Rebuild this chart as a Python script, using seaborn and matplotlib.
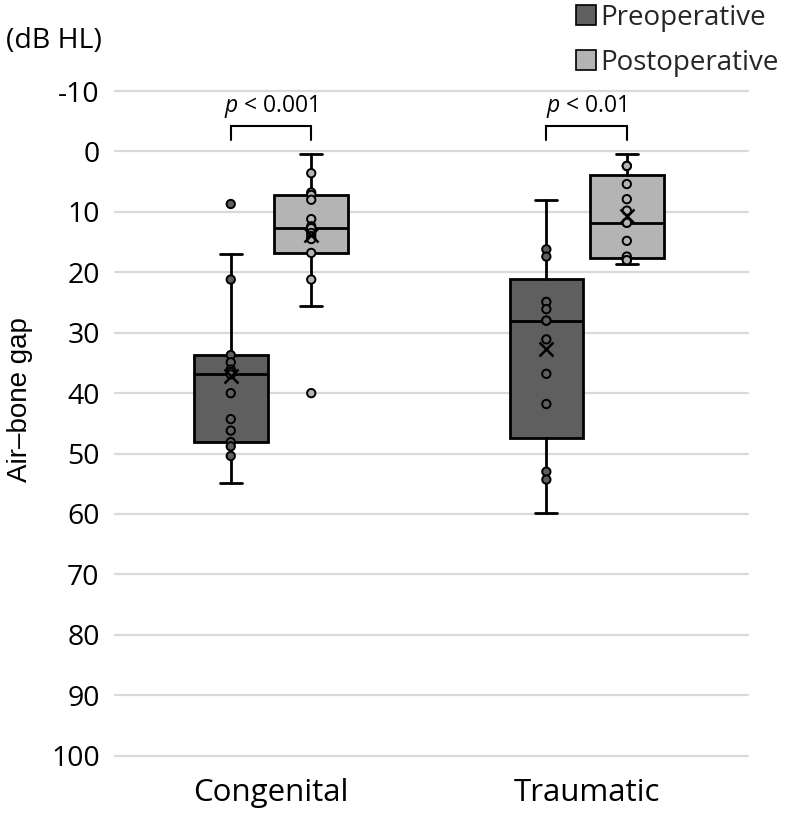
import matplotlib
matplotlib.use("Agg")
import matplotlib.pyplot as plt
from matplotlib.patches import Patch
import numpy as np
import pandas as pd
import seaborn as sns

# values (dB HL)
ETIOLOGIES = ["Congenital", "Traumatic"]
PHASES = ["Preoperative", "Postoperative"]
CONGENITAL_PRE = [8.7, 16.9, 21.2, 33.7, 34.9, 36.1, 36.5, 36.9, 40.0, 44.3, 46.2, 48.1, 48.8, 50.4, 54.9]
CONGENITAL_POST = [0.4, 3.6, 6.8, 7.2, 8.0, 11.2, 12.4, 12.7, 13.5, 14.0, 14.5, 16.8, 21.2, 25.5, 40.0]
TRAUMATIC_PRE = [8.0, 16.2, 17.4, 24.9, 26.1, 28.0, 28.0, 31.1, 36.8, 41.8, 53.0, 54.3, 59.9]
TRAUMATIC_POST = [0.4, 2.4, 2.4, 5.4, 7.9, 9.8, 11.8, 11.8, 14.8, 17.4, 18.0, 18.0, 18.7]
P_LABELS = ["< 0.001", "< 0.01"]
Y_TICKS = list(range(-10, 101, 10))

PHASE_COLORS = {"Preoperative": "#5f5f5f", "Postoperative": "#b4b4b4"}
PHASE_OFFSET = {"Preoperative": -0.1275, "Postoperative": 0.1275}
BOX_WIDTH = 0.2335
FONT = ["Open Sans", "DejaVu Sans"]


def excel_box_stats(values):
    # Excel box & whisker: exclusive quartiles, 1.5 IQR whiskers
    x = np.asarray(values, dtype=float)
    q1, med, q3 = np.percentile(x, [25, 50, 75], method="weibull")
    iqr = q3 - q1
    inside = x[(x >= q1 - 1.5 * iqr) & (x <= q3 + 1.5 * iqr)]
    return {
        "q1": q1, "med": med, "q3": q3, "mean": x.mean(),
        "whislo": inside.min(), "whishi": inside.max(), "fliers": [],
    }


def build_frame():
    series = {
        ("Congenital", "Preoperative"): CONGENITAL_PRE,
        ("Congenital", "Postoperative"): CONGENITAL_POST,
        ("Traumatic", "Preoperative"): TRAUMATIC_PRE,
        ("Traumatic", "Postoperative"): TRAUMATIC_POST,
    }
    rows = []
    for (etiology, phase), vals in series.items():
        for v in vals:
            rows.append({"etiology": etiology, "phase": phase, "value": v})
    df = pd.DataFrame(rows)
    df["pos"] = df["etiology"].map({e: i for i, e in enumerate(ETIOLOGIES)}) + df["phase"].map(PHASE_OFFSET)
    return df


def main():
    sns.set_theme(style="white")
    plt.rcParams["font.family"] = FONT
    plt.rcParams["axes.unicode_minus"] = False
    plt.rcParams["mathtext.fontset"] = "custom"
    plt.rcParams["mathtext.it"] = "Open Sans:italic"
    plt.rcParams["mathtext.rm"] = "Open Sans"

    df = build_frame()

    fig = plt.figure(figsize=(7.87, 8.13), dpi=100)
    ax = fig.add_axes([115 / 787, 1 - 755.7 / 813, (747.7 - 115) / 787, (755.7 - 91) / 813])

    stats, positions, colors, shown = [], [], [], []
    for (etiology, phase), grp in df.groupby(["etiology", "phase"], sort=False):
        st = excel_box_stats(grp["value"])
        stats.append(st)
        positions.append(grp["pos"].iloc[0])
        colors.append(PHASE_COLORS[phase])
        # Excel shows the inner points and outliers, not the whisker ends
        mask = (grp["value"] > st["whislo"]) & (grp["value"] < st["whishi"])
        mask |= (grp["value"] < st["whislo"]) | (grp["value"] > st["whishi"])
        shown.append(grp[mask])

    line_kw = dict(color="black", linewidth=2.0)
    bp = ax.bxp(
        stats, positions=positions, widths=BOX_WIDTH, capwidths=0.07,
        patch_artist=True, showmeans=True, showfliers=False,
        boxprops=dict(edgecolor="black", linewidth=2.0),
        whiskerprops=line_kw, capprops=line_kw, medianprops=line_kw,
        meanprops=dict(marker="x", markeredgecolor="black", markersize=10, markeredgewidth=1.8),
        zorder=2,
    )
    for patch, c in zip(bp["boxes"], colors):
        patch.set_facecolor(c)
    for m in bp["means"]:
        m.set_zorder(5)

    points = pd.concat(shown)
    sns.scatterplot(
        data=points, x="pos", y="value", hue="phase", palette=PHASE_COLORS,
        s=36, edgecolor="black", linewidth=1.4, legend=False, zorder=4, ax=ax,
    )

    # significance brackets
    for i, label in enumerate(P_LABELS):
        x0, x1 = i + PHASE_OFFSET["Preoperative"], i + PHASE_OFFSET["Postoperative"]
        ax.plot([x0, x0, x1, x1], [-1.9, -4.25, -4.25, -1.9], color="black", linewidth=1.5,
                solid_joinstyle="miter", zorder=3)
        ax.text(i, -6.6, r"$\mathit{p}$" + " " + label, ha="center", va="baseline",
                fontsize=16.5, color="black")

    ax.set_xlim(-0.4943, 1.5105)
    ax.set_ylim(100, -10)
    ax.set_yticks(Y_TICKS)
    ax.set_xticks(range(len(ETIOLOGIES)))
    ax.set_xticklabels(ETIOLOGIES)
    ax.set_xlabel("")
    ax.set_ylabel("")
    ax.tick_params(axis="y", labelsize=20.5, pad=11, length=0, labelcolor="black")
    ax.tick_params(axis="x", labelsize=22.5, pad=16, length=0, labelcolor="black")
    ax.yaxis.grid(True, color="#d9d9d9", linewidth=1.6)
    ax.xaxis.grid(False)
    for line in ax.get_ygridlines():
        line.set_clip_on(False)
    ax.set_axisbelow(True)
    sns.despine(ax=ax, left=True, bottom=True)

    fig.text(20 / 787, 1 - 400 / 813, "Air\u2013bone gap", rotation=90, ha="center", va="center",
             fontsize=20, family=["Liberation Sans", "DejaVu Sans"], color="black")
    fig.text(6 / 787, 1 - 41 / 813, "(dB HL)", ha="left", va="center", fontsize=20.5, color="black")

    handles = [Patch(facecolor=PHASE_COLORS[p], edgecolor="black", linewidth=1.2) for p in PHASES]
    fig.legend(
        handles, PHASES, loc="upper left", bbox_to_anchor=(573 / 787, 1 - 1 / 813),
        frameon=False, fontsize=20, handlelength=0.72, handleheight=0.72,
        handletextpad=0.16, labelspacing=0.62, borderpad=0.1, borderaxespad=0,
    )

    fig.savefig("out.png", dpi=100)
    plt.close(fig)


if __name__ == "__main__":
    main()
